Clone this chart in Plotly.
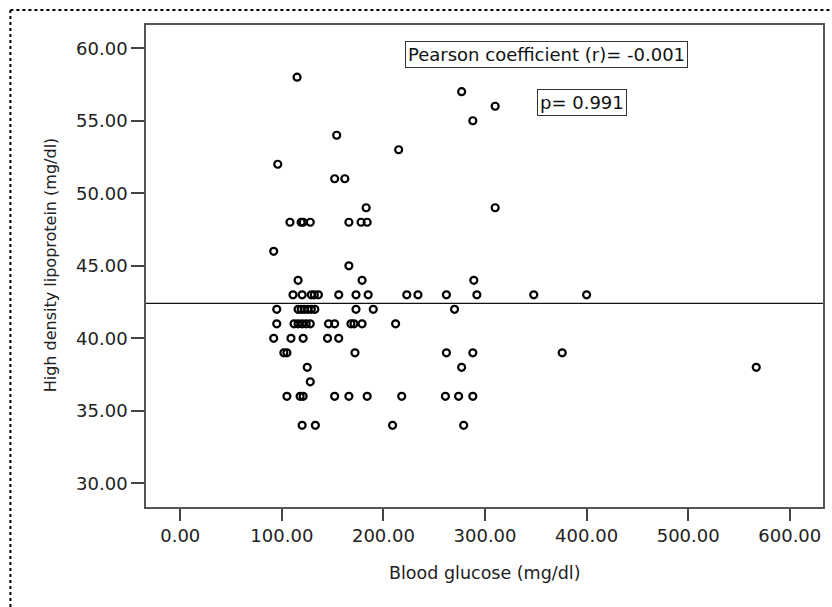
import plotly.graph_objects as go

# ---- data ----
glucose = [
    115, 277, 310, 288, 154, 215, 96, 152, 162, 183, 310,
    108, 119, 121, 128, 166, 178, 184,
    92, 166, 116, 179, 289,
    111, 120, 129, 132, 136, 156, 173, 185, 223, 234, 262, 292, 348, 400,
    95, 116, 119, 122, 125.5, 129, 132.5, 173, 190, 270,
    95, 112, 116, 120, 124, 128, 146, 152, 168, 171, 179, 212,
    92, 109, 121, 145, 156,
    102, 105, 172, 262, 288, 376,
    125, 277, 567,
    128,
    105, 118, 121, 152, 166, 184, 218, 261, 274, 288,
    120, 133, 209, 279,
]
hdl = [
    58, 57, 56, 55, 54, 53, 52, 51, 51, 49, 49,
    48, 48, 48, 48, 48, 48, 48,
    46, 45, 44, 44, 44,
    43, 43, 43, 43, 43, 43, 43, 43, 43, 43, 43, 43, 43, 43,
    42, 42, 42, 42, 42, 42, 42, 42, 42, 42,
    41, 41, 41, 41, 41, 41, 41, 41, 41, 41, 41, 41,
    40, 40, 40, 40, 40,
    39, 39, 39, 39, 39, 39,
    38, 38, 38,
    37,
    36, 36, 36, 36, 36, 36, 36, 36, 36, 36,
    34, 34, 34, 34,
]

x_ticks = [0, 100, 200, 300, 400, 500, 600]
x_tick_labels = ["0.00", "100.00", "200.00", "300.00", "400.00", "500.00", "600.00"]
y_ticks = [30, 35, 40, 45, 50, 55, 60]
y_tick_labels = ["30.00", "35.00", "40.00", "45.00", "50.00", "55.00", "60.00"]

x_range = [-33.7, 632.7]
y_range = [28.37, 61.6]

fit_intercept = 42.41
fit_slope = 0.0

pearson_text = "Pearson coefficient (r)= -0.001"
p_text = "p= 0.991"
x_title = "Blood glucose (mg/dl)"
y_title = "High density lipoprotein (mg/dl)"

FONT = "DejaVu Sans"

fig = go.Figure()

fit_x = [x_range[0], x_range[1]]
fit_y = [fit_intercept + fit_slope * v for v in fit_x]
fig.add_trace(go.Scatter(
    x=fit_x, y=fit_y, mode="lines",
    line=dict(color="#111111", width=1.2),
    hoverinfo="skip", showlegend=False,
))

fig.add_trace(go.Scatter(
    x=glucose, y=hdl, mode="markers",
    marker=dict(symbol="circle-open", size=7, color="black",
                line=dict(width=2.2, color="black")),
    showlegend=False,
))

axis_common = dict(
    showgrid=False, zeroline=False,
    showline=True, linecolor="#555555", linewidth=1.5, mirror=True,
    ticks="outside", tickcolor="#444444", tickwidth=1.5,
    tickfont=dict(family=FONT, size=18, color="#222222"),
)

fig.update_xaxes(range=x_range, tickvals=x_ticks, ticktext=x_tick_labels,
                 ticklen=12, **axis_common)
fig.update_yaxes(range=y_range, tickvals=y_ticks, ticktext=y_tick_labels,
                 ticklen=13, **axis_common)

fig.add_annotation(
    text=pearson_text, xref="paper", yref="paper", x=0.5913, y=0.9378,
    xanchor="center", yanchor="middle", showarrow=False,
    font=dict(family=FONT, size=18, color="#111111"),
    bordercolor="#333333", borderwidth=1, borderpad=2, bgcolor="white",
)
fig.add_annotation(
    text=p_text, xref="paper", yref="paper", x=0.6446, y=0.8402,
    xanchor="center", yanchor="middle", showarrow=False,
    font=dict(family=FONT, size=18, color="#111111"),
    bordercolor="#333333", borderwidth=1, borderpad=2, bgcolor="white",
)
fig.add_annotation(
    text=x_title, xref="paper", yref="paper", x=0.5007, y=-0.136,
    xanchor="center", yanchor="middle", showarrow=False,
    font=dict(family=FONT, size=17.5, color="#222222"),
)
fig.add_annotation(
    text=y_title, xref="paper", yref="paper", x=-0.1414, y=0.502,
    xanchor="center", yanchor="middle", showarrow=False, textangle=-90,
    font=dict(family=FONT, size=16, color="#222222"),
)

# dotted frame (left and top edges of the original image)
fig.add_shape(type="line", xref="paper", yref="paper",
              x0=-0.2003, x1=-0.2003, y0=1.0311, y1=-0.21,
              line=dict(color="black", width=2, dash="dot"))
fig.add_shape(type="line", xref="paper", yref="paper",
              x0=-0.2003, x1=1.012, y0=1.0311, y1=1.0311,
              line=dict(color="black", width=2, dash="dot"))

fig.update_layout(
    width=832, height=607, autosize=False,
    margin=dict(l=146, r=7, t=25, b=100),
    paper_bgcolor="white", plot_bgcolor="white",
    showlegend=False,
)

fig.write_html("out.html")
